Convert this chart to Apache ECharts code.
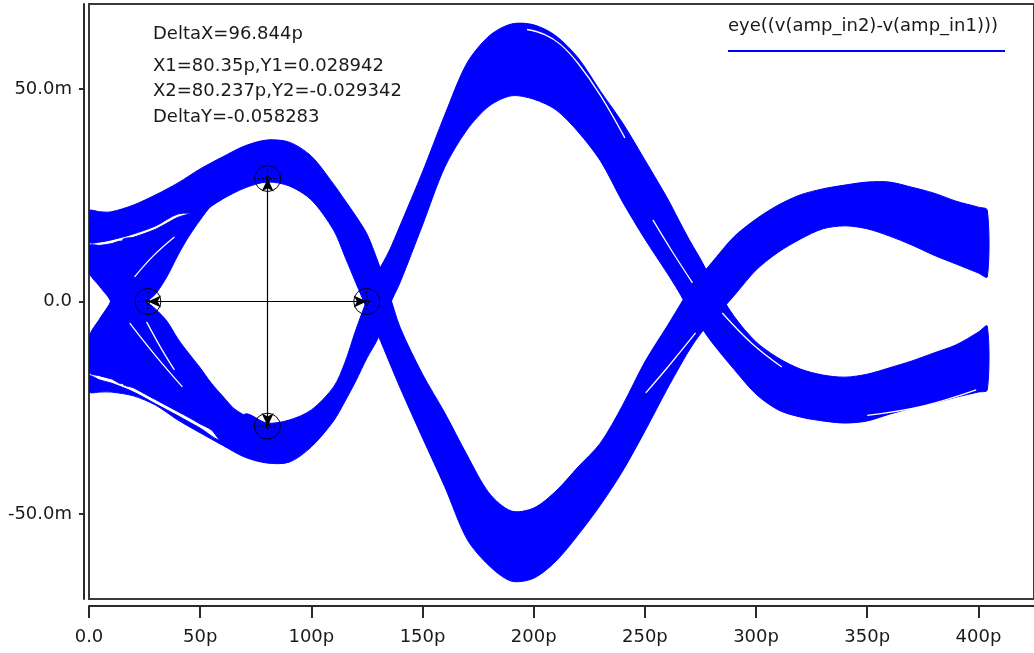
<!DOCTYPE html>
<html><head><meta charset="utf-8">
<script src="https://cdn.jsdelivr.net/npm/echarts@6/dist/echarts.min.js"></script>
<style>html,body{margin:0;padding:0;background:#fff}#c{width:1034px;height:653px}</style>
</head><body><div id="c"></div>
<script>
// ---- tick labels ----
const xTicks = [0, 50, 100, 150, 200, 250, 300, 350, 400];   // ps
const yTicks = [-50, 0, 50];                                  // mV
// ---- sample times (ps) for the two main bundles ----
const X = [0,5,10,20,30,40,50,60,70,80,90,100,110,115,120,125,130,135,140,150,160,170,180,190,200,210,220,230,240,250,260,265,270,275,280,290,300,310,320,330,340,350,360,370,380,390,400,404];
// bundle that sits in the upper eye (top / bottom envelope, mV)
const pTop = [21.3,21.1,21.1,22.7,25.1,27.9,31.2,34.0,36.6,38.0,37.5,34.2,27.6,23.9,20.1,15.9,9.3,1.8,-6.2,-17.1,-26.2,-36.1,-45.1,-49.3,-48.6,-44.6,-38.9,-33.3,-24.4,-14.2,-5.8,-1.5,2.7,6.0,9.1,15.2,19.4,22.7,25.1,26.5,27.4,28.1,28.1,26.9,25.5,23.6,22.2,21.5];
const pBot = [14.0,14.0,14.5,15.9,17.8,20.6,21.0,24.1,26.7,28.1,27.2,23.9,16.8,10.7,4.4,-1.8,-7.9,-14.2,-20.4,-32.1,-43.6,-55.9,-62.2,-65.8,-65.1,-61.1,-54.9,-47.9,-39.9,-30.5,-20.6,-15.9,-11.4,-7.6,-4.6,1.3,7.4,11.6,14.7,17.1,17.8,17.1,15.4,13.3,10.9,8.8,6.7,5.8];
// bundle that sits in the lower eye
const nTop = [-17.5,-18.5,-19.2,-21.3,-24.1,-26.9,-29.8,-32.6,-26.5,-28.6,-27.9,-25.5,-20.1,-14.5,-6.7,0.4,6.9,11.9,18.0,30.5,43.9,56.1,62.5,65.3,65.1,62.5,57.3,49.5,42.0,33.3,24.4,19.4,14.5,10.0,5.1,-3.4,-9.5,-13.3,-15.9,-17.3,-17.8,-17.1,-15.6,-14.0,-12.1,-10.2,-7.2,-5.8];
const nBot = [-21.3,-21.3,-21.3,-22.2,-24.4,-27.9,-30.9,-33.8,-36.6,-38.0,-37.8,-34.2,-28.1,-23.6,-18.7,-13.3,-8.6,-1.1,4.6,18.0,31.6,40.4,46.0,48.4,47.6,45.1,39.9,33.1,23.4,14.7,6.7,2.5,-2.0,-5.8,-9.5,-15.9,-21.8,-25.5,-27.2,-28.1,-28.6,-28.1,-26.5,-25.1,-23.9,-22.5,-21.3,-20.8];
// transitions crossing near 25 ps
const XP2 = [0,5,10,15,20,25,30,35,40,45,50,55,60];
const p2Top = [-8.4,-3.9,0.4,14.4,15.1,16.0,17.0,18.4,19.8,20.6,21.5,22.7,24.3];
const p2Bot = [-16.6,-17.5,-18.2,-19.2,-10.0,-0.8,1.8,5.8,10.9,15.4,19.2,22.5,24.1];
const XN2 = [0,5,10,15,20,25,30,35,40,45,50,55,60,65,70];
const n2Top = [13.1,13.2,13.6,14.0,2.9,0.4,-1.8,-4.6,-8.8,-12.3,-15.6,-19.2,-22.2,-25.1,-26.9];
const n2Bot = [6.9,3.4,-0.4,-19.2,-20.3,-21.7,-23.1,-24.5,-25.9,-27.3,-28.8,-30.2,-33.0,-31.0,-27.4];
// thin gaps between sub-bundles (ps, mV)
const gapUpperLobe = [[197,64.0],[205,62.8],[212,60.5],[220,56.0],[230,48.5],[241,38.5]];
const gapFallCross = [[253.6,19.2],[262,12.0],[271.4,4.4]];
const gapRiseCross = [[250.4,-21.5],[261,-15.0],[272.8,-7.4]];
const gapFallRight = [[284.8,-2.7],[298,-9.8],[311.6,-15.4]];
const gapLowRight = [[350,-26.8],[375,-24.6],[399,-20.8]];
const gapUpperNotch = [[20.5,5.8],[29,10.8],[38.4,15.2]];
const gapLowerFanA = [[18.3,-5.1],[30,-12.8],[42.0,-20.1]];
const gapLowerFanB = [[25.9,-4.8],[32,-10.6],[38.4,-16.1]];
// cursors
const hCursorX = [26.5, 124.9];          // horizontal cursor ends (ps) at 0 V
const vCursorX = [80.35, 80.237];        // vertical cursor x (ps)
const vCursorY = [28.942, -29.342];      // vertical cursor y (mV)
const readouts = ['DeltaX=96.844p', 'X1=80.35p,Y1=0.028942', 'X2=80.237p,Y2=-0.029342', 'DeltaY=-0.058283'];
const legendName = 'eye((v(amp_in2)-v(amp_in1)))';

const BLUE = '#0000ff';
const FONT = '"DejaVu Sans", sans-serif';

const bands = [
  { xs: X, top: pTop, bot: pBot },
  { xs: X, top: nTop, bot: nBot },
  { xs: XP2, top: p2Top, bot: p2Bot },
  { xs: XN2, top: n2Top, bot: n2Bot }
];

const markerPts = [[hCursorX[0], 0], [hCursorX[1], 0], [vCursorX[0], vCursorY[0]], [vCursorX[1], vCursorY[1]]];

function gapSeries(d) {
  return { type: 'line', data: d, smooth: 0.4, symbol: 'none', silent: true, z: 3, animation: false,
    lineStyle: { color: '#ffffff', width: 1.3 } };
}

const series = [
  {
    type: 'custom', name: legendName, silent: true, clip: true, z: 2, animation: false,
    data: bands.map((b, i) => [i]),
    renderItem: function (params, api) {
      const b = bands[params.dataIndex];
      const pts = [];
      for (let i = 0; i < b.xs.length; i++) pts.push(api.coord([b.xs[i], b.top[i]]));
      for (let i = b.xs.length - 1; i >= 0; i--) pts.push(api.coord([b.xs[i], b.bot[i]]));
      return {
        type: 'polygon',
        shape: { points: pts, smooth: 0.3 },
        style: { fill: BLUE, stroke: BLUE, lineWidth: 1 }
      };
    }
  },
  gapSeries(gapUpperLobe), gapSeries(gapFallCross), gapSeries(gapRiseCross), gapSeries(gapFallRight), gapSeries(gapLowRight),
  gapSeries(gapUpperNotch), gapSeries(gapLowerFanA), gapSeries(gapLowerFanB),
  {
    type: 'line', data: [], silent: true, z: 5,
    markLine: {
      silent: true, animation: false,
      symbol: ['arrow', 'arrow'], symbolSize: [9, 13],
      label: { show: false },
      lineStyle: { color: '#000', width: 1.2, type: 'solid' },
      emphasis: { disabled: true },
      data: [
        [{ coord: [hCursorX[0], 0] }, { coord: [hCursorX[1], 0] }],
        [{ coord: [vCursorX[0], vCursorY[0]] }, { coord: [vCursorX[0], vCursorY[1]] }]
      ]
    }
  },
  {
    type: 'custom', data: markerPts, silent: true, z: 6, animation: false,
    renderItem: function (params, api) {
      const p = api.coord([api.value(0), api.value(1)]);
      const cx = p[0], cy = p[1];
      return {
        type: 'group', children: [
          { type: 'circle', shape: { cx: cx, cy: cy, r: 13 }, style: { fill: 'none', stroke: '#000', lineWidth: 1 } },
          { type: 'line', shape: { x1: cx - 10, y1: cy, x2: cx + 10, y2: cy }, style: { stroke: '#000', lineWidth: 1, lineDash: [2, 2] } },
          { type: 'line', shape: { x1: cx, y1: cy - 10, x2: cx, y2: cy + 10 }, style: { stroke: '#000', lineWidth: 1, lineDash: [2, 2] } },
          { type: 'circle', shape: { cx: cx, cy: cy, r: 2 }, style: { fill: 'none', stroke: '#000', lineWidth: 1 } }
        ]
      };
    }
  }
];

const chart = echarts.init(document.getElementById('c'), null, { renderer: 'canvas' });
chart.setOption({
  animation: false,
  backgroundColor: '#fff',
  grid: { left: 89, right: -7, top: 4, bottom: 54, show: true, borderColor: '#3a3a3a', borderWidth: 2, containLabel: false },
  xAxis: {
    type: 'value', min: 0, max: 425, position: 'bottom', offset: 7,
    axisLine: { show: true, onZero: false, lineStyle: { color: '#2a2a2a', width: 2 } },
    axisTick: { show: true, customValues: xTicks, length: 12, lineStyle: { color: '#2a2a2a', width: 2 } },
    axisLabel: { customValues: xTicks, margin: 22, color: '#1a1a1a', fontFamily: FONT, fontSize: 18,
      formatter: v => (v === 0 ? '0.0' : v + 'p') },
    splitLine: { show: false }
  },
  yAxis: {
    type: 'value', min: -70, max: 70, position: 'left', offset: 5,
    axisLine: { show: true, onZero: false, lineStyle: { color: '#2a2a2a', width: 2 } },
    axisTick: { show: true, customValues: yTicks, length: 5, lineStyle: { color: '#2a2a2a', width: 2 } },
    axisLabel: { customValues: yTicks, margin: 12, color: '#1a1a1a', fontFamily: FONT, fontSize: 18,
      formatter: v => (v === 0 ? '0.0' : v.toFixed(1) + 'm') },
    splitLine: { show: false }
  },
  graphic: [
    { type: 'text', x: 153, y: 34, z: 20, style: { text: readouts[0], font: '18px ' + FONT, fill: '#1a1a1a', verticalAlign: 'middle' } },
    { type: 'text', x: 153, y: 66, z: 20, style: { text: readouts[1], font: '18px ' + FONT, fill: '#1a1a1a', verticalAlign: 'middle' } },
    { type: 'text', x: 153, y: 91, z: 20, style: { text: readouts[2], font: '18px ' + FONT, fill: '#1a1a1a', verticalAlign: 'middle' } },
    { type: 'text', x: 153, y: 117, z: 20, style: { text: readouts[3], font: '18px ' + FONT, fill: '#1a1a1a', verticalAlign: 'middle' } },
    { type: 'text', x: 728, y: 26, z: 20, style: { text: legendName, font: '18px ' + FONT, fill: '#1a1a1a', verticalAlign: 'middle' } },
    { type: 'line', z: 20, shape: { x1: 728, y1: 51, x2: 1005, y2: 51 }, style: { stroke: BLUE, lineWidth: 2 } }
  ],
  series: series
});
</script>
</body></html>
